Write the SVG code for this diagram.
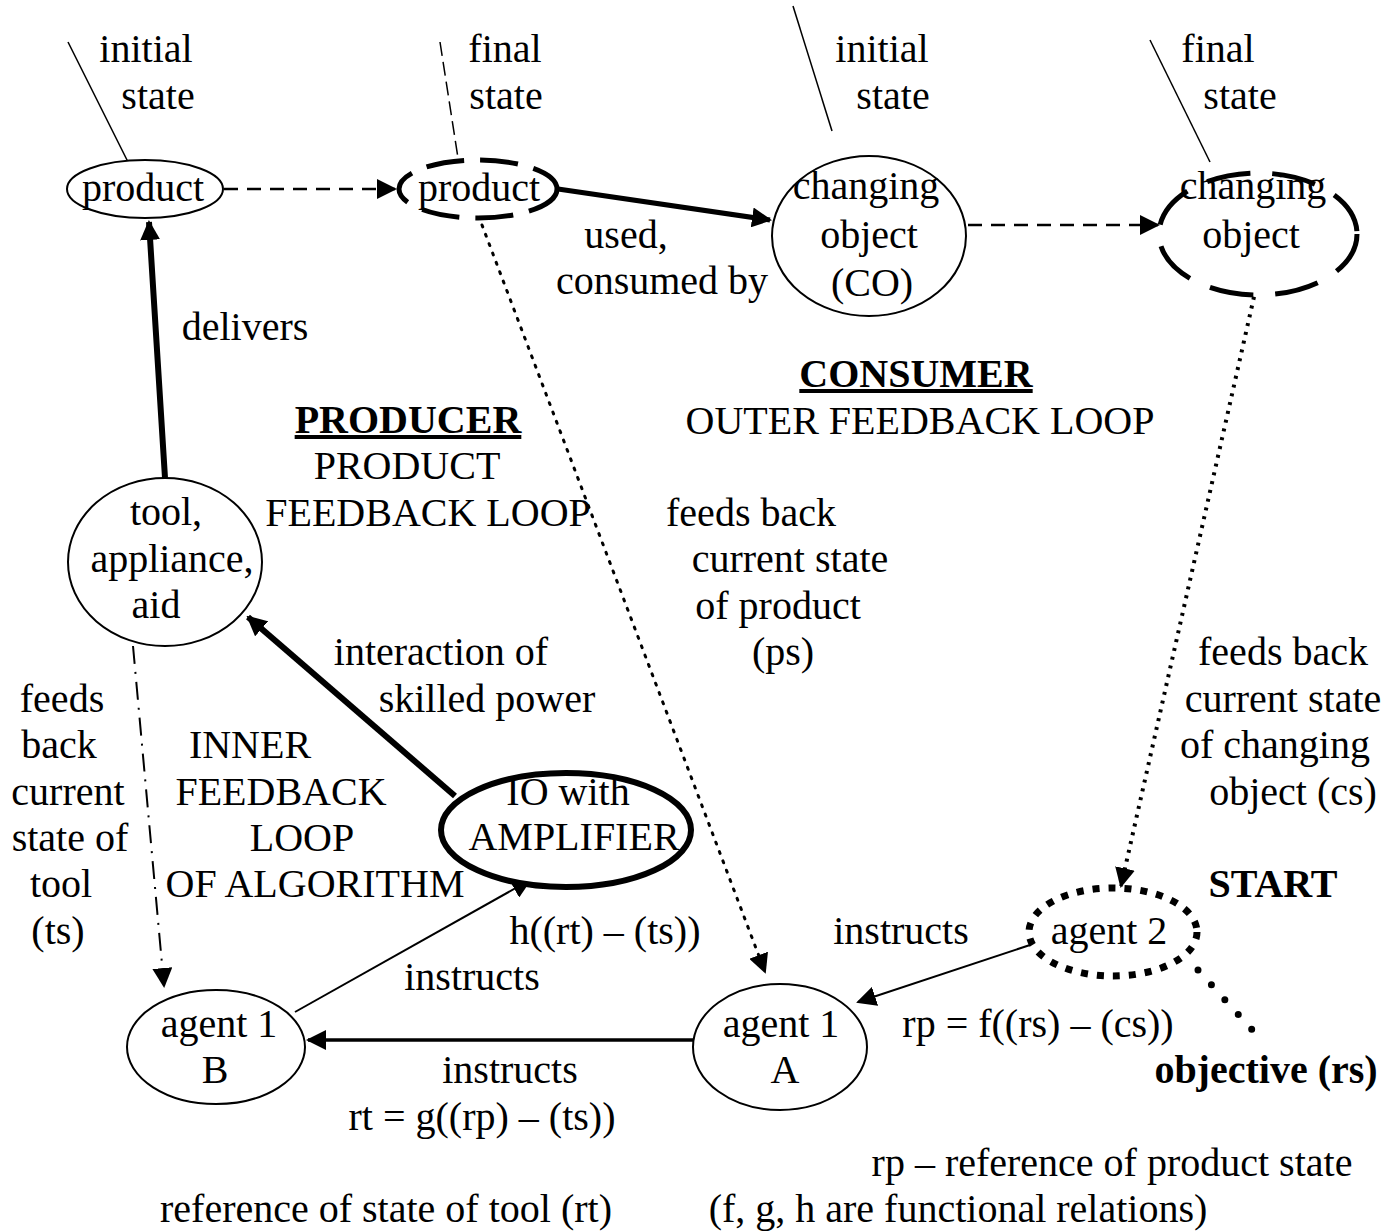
<svg xmlns="http://www.w3.org/2000/svg" width="1387" height="1232" viewBox="0 0 1387 1232">
<style>
text{font-family:"Liberation Serif","Times New Roman",serif;font-size:40px;fill:#000;text-anchor:middle}
.b{font-weight:bold}
.u{text-decoration:underline}
.n{fill:#fff;stroke:#000;stroke-width:2}
.thin{fill:none;stroke:#000;stroke-width:1.5}
</style>
<defs>
<marker id="ahL" viewBox="0 0 10 10" refX="9" refY="5" markerWidth="20" markerHeight="20" markerUnits="userSpaceOnUse" orient="auto"><path d="M0,0L10,5L0,10z"/></marker>
</defs>
<rect width="1387" height="1232" fill="#fff"/>
<g id="connectors">
<line x1="68" y1="42" x2="128" y2="162" class="thin"/>
<line x1="440" y1="42" x2="458" y2="158" class="thin" stroke-dasharray="14 6"/>
<line x1="793" y1="6" x2="832" y2="131" class="thin"/>
<line x1="1150" y1="40" x2="1210" y2="162" class="thin"/>
<line x1="224" y1="189" x2="395" y2="189" fill="none" stroke="#000" stroke-width="2.5" stroke-dasharray="14 9" marker-end="url(#ahL)"/>
<line x1="558" y1="189" x2="770" y2="220" fill="none" stroke="#000" stroke-width="5" marker-end="url(#ahL)"/>
<line x1="968" y1="225" x2="1158" y2="225" fill="none" stroke="#000" stroke-width="2.5" stroke-dasharray="14 9" marker-end="url(#ahL)"/>
<line x1="165" y1="478" x2="149" y2="222" fill="none" stroke="#000" stroke-width="6" marker-end="url(#ahL)"/>
<line x1="455" y1="796" x2="248" y2="617" fill="none" stroke="#000" stroke-width="6" marker-end="url(#ahL)"/>
<line x1="295" y1="1012" x2="530" y2="880" fill="none" stroke="#000" stroke-width="2" marker-end="url(#ahL)"/>
<line x1="693" y1="1040" x2="308" y2="1040" fill="none" stroke="#000" stroke-width="3.5" marker-end="url(#ahL)"/>
<line x1="1030" y1="945" x2="858" y2="1002" fill="none" stroke="#000" stroke-width="2" marker-end="url(#ahL)"/>
<line x1="482" y1="225" x2="765" y2="972" fill="none" stroke="#000" stroke-width="3" stroke-dasharray="2 8" stroke-linecap="round" marker-end="url(#ahL)"/>
<line x1="1256" y1="288" x2="1121" y2="886" fill="none" stroke="#000" stroke-width="4" stroke-dasharray="3 6" marker-end="url(#ahL)"/>
<line x1="133" y1="646" x2="164" y2="986" fill="none" stroke="#000" stroke-width="2" stroke-dasharray="18 8 2 8" marker-end="url(#ahL)"/>
<line x1="1198" y1="970" x2="1255" y2="1033" fill="none" stroke="#000" stroke-width="7" stroke-dasharray="0 20" stroke-linecap="round"/>
</g>
<g id="product1"><ellipse cx="145" cy="189" rx="78" ry="29" class="n"/><text x="143" y="201">product</text></g>
<g id="product2"><ellipse cx="478" cy="189" rx="79" ry="29" fill="#fff" stroke="#000" stroke-width="5" stroke-dasharray="38 16"/><text x="479" y="201">product</text></g>
<g id="co"><ellipse cx="869" cy="236" rx="97" ry="80" class="n"/><text x="866" y="199">changing</text><text x="869" y="248">object</text><text x="872" y="296">(CO)</text></g>
<g id="co-final"><ellipse cx="1258" cy="234" rx="99" ry="61" fill="#fff" stroke="#000" stroke-width="5" stroke-dasharray="44 22"/><text x="1253" y="199">changing</text><text x="1251" y="248">object</text></g>
<g id="tool"><ellipse cx="165" cy="562" rx="97" ry="84" class="n"/><text x="166" y="525">tool,</text><text x="172" y="572">appliance,</text><text x="156" y="618">aid</text></g>
<g id="io"><ellipse cx="566" cy="830" rx="125" ry="57" fill="#fff" stroke="#000" stroke-width="6"/><text x="568" y="805">IO with</text><text x="574" y="850">AMPLIFIER</text></g>
<g id="agent2"><ellipse cx="1113" cy="932" rx="84" ry="44" fill="#fff" stroke="#000" stroke-width="7" stroke-dasharray="7 9"/><text x="1109" y="944">agent 2</text></g>
<g id="agent1a"><ellipse cx="780" cy="1047" rx="87" ry="63" class="n"/><text x="781" y="1037">agent 1</text><text x="785" y="1083">A</text></g>
<g id="agent1b"><ellipse cx="216" cy="1047" rx="89" ry="57" class="n"/><text x="219" y="1037">agent 1</text><text x="215" y="1083">B</text></g>
<g id="labels">
<text x="146" y="62">initial</text><text x="158" y="109">state</text>
<text x="505" y="62">final</text><text x="506" y="109">state</text>
<text x="882" y="62">initial</text><text x="893" y="109">state</text>
<text x="1218" y="62">final</text><text x="1240" y="109">state</text>
<text x="626" y="248">used,</text><text x="662" y="294">consumed by</text>
<text x="245" y="340">delivers</text>
<text x="408" y="433" class="b u">PRODUCER</text><text x="407" y="479">PRODUCT</text><text x="428" y="526">FEEDBACK LOOP</text>
<text x="916" y="387" class="b u">CONSUMER</text><text x="920" y="434">OUTER FEEDBACK LOOP</text>
<text x="751" y="526">feeds back</text><text x="790" y="572">current state</text><text x="778" y="619">of product</text><text x="783" y="665">(ps)</text>
<text x="441" y="665">interaction of</text><text x="487" y="712">skilled power</text>
<text x="1283" y="665">feeds back</text><text x="1283" y="712">current state</text><text x="1275" y="758">of changing</text><text x="1293" y="805">object (cs)</text>
<text x="62" y="712">feeds</text><text x="59" y="758">back</text><text x="68" y="805">current</text><text x="70" y="851">state of</text><text x="61" y="897">tool</text><text x="58" y="944">(ts)</text>
<text x="250" y="758">INNER</text><text x="281" y="805">FEEDBACK</text><text x="302" y="851">LOOP</text><text x="315" y="897">OF ALGORITHM</text>
<text x="1273" y="897" class="b">START</text>
<text x="605" y="944">h((rt) – (ts))</text><text x="472" y="990">instructs</text>
<text x="901" y="944">instructs</text>
<text x="1038" y="1037">rp = f((rs) – (cs))</text>
<text x="1266" y="1083" class="b">objective (rs)</text>
<text x="510" y="1083">instructs</text><text x="482" y="1130">rt = g((rp) – (ts))</text>
<text x="1112" y="1176">rp – reference of product state</text>
<text x="386" y="1222">reference of state of tool (rt)</text>
<text x="958" y="1222">(f, g, h are functional relations)</text>
</g>
</svg>
